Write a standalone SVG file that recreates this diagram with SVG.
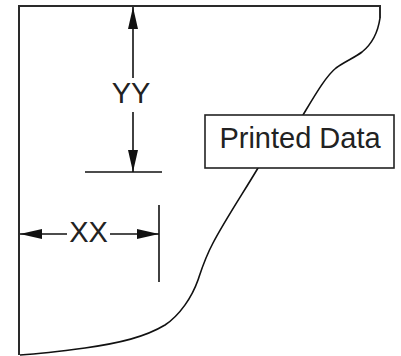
<svg xmlns="http://www.w3.org/2000/svg" width="401" height="356" viewBox="0 0 401 356">
<style>
.frame{fill:none;stroke:#2a2a2a;stroke-width:2}
.edge{fill:none;stroke:#111;stroke-width:1.6;stroke-linejoin:round}
.dim{fill:none;stroke:#111;stroke-width:1.6}
.lbl{font-family:"Liberation Sans",Arial,sans-serif;font-size:29px;fill:#222}
</style>
<defs>
<marker id="ah" viewBox="0 0 22 12" refX="22" refY="6" markerWidth="22" markerHeight="12" markerUnits="userSpaceOnUse" orient="auto">
<path d="M0,1 L22,6 L0,11 Z" fill="#111"/>
</marker>
</defs>
<rect width="401" height="356" fill="#fff"/>
<g id="sheet">
<path class="frame" d="M19,355 L19,6 L380,6 L380,18"/>
<path class="edge" d="M380,18 C378,32 372,44 362,52 C354,58 344,62 336,68 C326,76 315,95 303,115 L258,168 C245,190 225,220 213,243 C205,258 202,268 198,280 C192,297 180,315 165,325 C145,337 120,343 85,348 C55,352 35,354 20,355"/>
</g>
<g id="connectors">
<line class="dim" x1="133" y1="78" x2="133" y2="7" marker-end="url(#ah)"/>
<line class="dim" x1="133" y1="112" x2="133" y2="172" marker-end="url(#ah)"/>
<line class="dim" x1="85" y1="172" x2="162" y2="172"/>
<line class="dim" x1="67" y1="234" x2="20" y2="234" marker-end="url(#ah)"/>
<line class="dim" x1="110" y1="234" x2="159" y2="234" marker-end="url(#ah)"/>
<line class="dim" x1="159" y1="205" x2="159" y2="282"/>
</g>
<g id="yy"><text class="lbl" x="131" y="103" text-anchor="middle">YY</text></g>
<g id="xx"><text class="lbl" x="88.5" y="242" text-anchor="middle">XX</text></g>
<g id="printed-data">
<rect x="205" y="115" width="189" height="53" fill="#fff" stroke="#222" stroke-width="1.6"/>
<text class="lbl" x="300" y="148" text-anchor="middle">Printed Data</text>
</g>
</svg>
